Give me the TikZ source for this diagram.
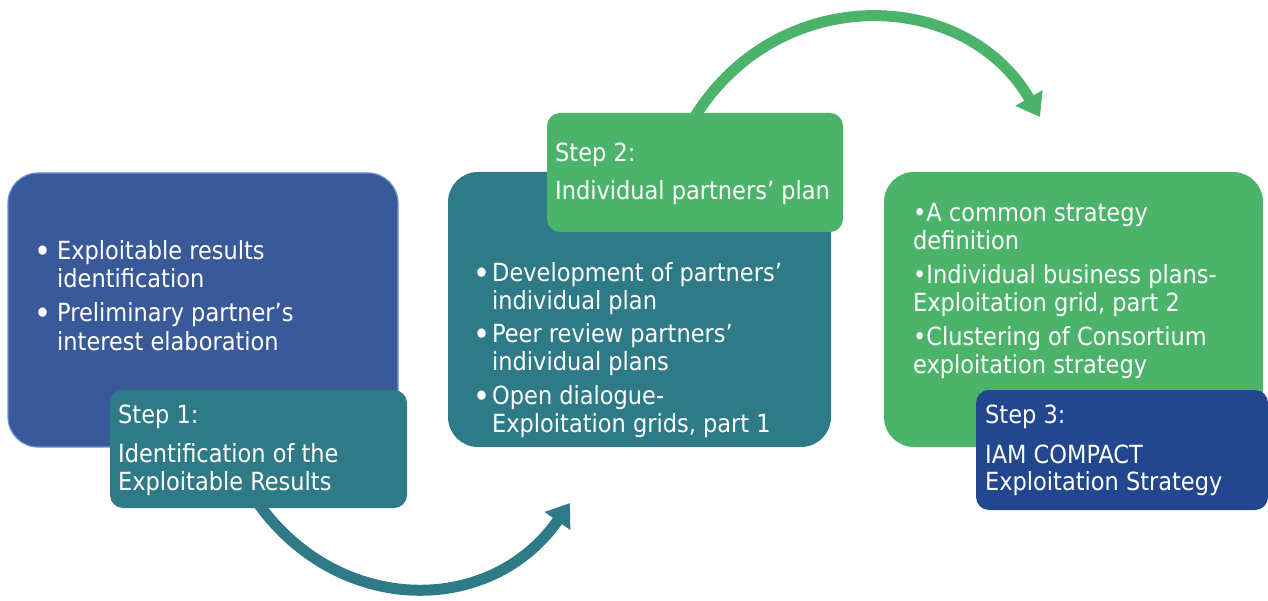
\documentclass[tikz,border=0pt]{standalone}
\usepackage{fontspec}
\setmainfont{DejaVu Sans Condensed}
\usetikzlibrary{arrows.meta,calc}
\pgfdeclarelayer{bg}
\pgfsetlayers{bg,main}
\definecolor{cblue}{HTML}{3A5998}
\definecolor{cblueedge}{HTML}{6C93D3}
\definecolor{cteal}{HTML}{2E7B87}
\definecolor{cgreen}{HTML}{4BB46A}
\definecolor{cnavy}{HTML}{23478E}
\begin{document}
\begin{tikzpicture}[x=1pt,y=-1pt,
  bigbox/.style={rounded corners=30pt, anchor=north west, inner sep=0pt, outer sep=0pt},
  stepbox/.style={rounded corners=13pt, anchor=north west, inner sep=0pt, outer sep=0pt},
  txt/.style={anchor=base west, inner sep=0pt, text=white, font=\fontsize{25}{28}\selectfont},
  bul/.style={anchor=base, inner sep=0pt, text=white, font=\fontsize{32}{32}\selectfont},
  flow/.style={line width=11pt, -{Triangle[width=30pt,length=22pt]}}]
\useasboundingbox (0,0) rectangle (1268,601);
% boxes
\node[bigbox, fill=cblue, draw=cblueedge, line width=1.2pt, minimum width=390, minimum height=274] (b1) at (8,173) {};
\node[stepbox, fill=cteal, minimum width=297, minimum height=118] (s1) at (110,390) {};
\node[bigbox, fill=cteal, minimum width=383, minimum height=275] (b2) at (448,172) {};
\node[stepbox, fill=cgreen, minimum width=296, minimum height=119] (s2) at (547,113) {};
\node[bigbox, fill=cgreen, minimum width=379, minimum height=275] (b3) at (884,172) {};
\node[stepbox, fill=cnavy, minimum width=292, minimum height=120] (s3) at (976,390) {};
% arrows
\begin{pgfonlayer}{bg}
\coordinate (e1) at (570,503);
\draw[flow, cteal] ($(s1.south)+(-4,-10)$) .. controls (333,615) and (489,619) .. (e1);
\coordinate (e2) at (1040,117);
\draw[flow, cgreen] ($(s2.north)+(-4,10)$) .. controls (773,-18) and (964,-14) .. (e2);
\end{pgfonlayer}
% box 1 text
\node[bul] (b1p1) at (42.5,263) {•};
\node[txt] (b1t1) at (57,260) {Exploitable results};
\node[txt] (b1t2) at (57,288) {identification};
\node[bul] (b1p2) at (42.5,325) {•};
\node[txt] (b1t3) at (57,322) {Preliminary partner’s};
\node[txt] (b1t4) at (57,350) {interest elaboration};
% step 1 text
\node[txt] (s1t1) at (118,423) {Step 1:};
\node[txt] (s1t2) at (118,462) {Identification of the};
\node[txt] (s1t3) at (118,490) {Exploitable Results};
% step 2 text
\node[txt] (s2t1) at (555,162) {Step 2:};
\node[txt] (s2t2) at (555,200) {Individual partners’ plan};
% box 2 text
\node[bul] (b2p1) at (482,285) {•};
\node[txt] (b2t1) at (492,282) {Development of partners’};
\node[txt] (b2t2) at (492,310) {individual plan};
\node[bul] (b2p2) at (482,345) {•};
\node[txt] (b2t3) at (492,342) {Peer review partners’};
\node[txt] (b2t4) at (492,370) {individual plans};
\node[bul] (b2p3) at (482,407) {•};
\node[txt] (b2t5) at (492,404) {Open dialogue-};
\node[txt] (b2t6) at (492,432) {Exploitation grids, part 1};
% box 3 text
\node[txt] (b3t1) at (913,222) {•A common strategy};
\node[txt] (b3t2) at (913,250) {definition};
\node[txt] (b3t3) at (913,284) {•Individual business plans-};
\node[txt] (b3t4) at (913,312) {Exploitation grid, part 2};
\node[txt] (b3t5) at (913,345) {•Clustering of Consortium};
\node[txt] (b3t6) at (913,373) {exploitation strategy};
% step 3 text
\node[txt] (s3t1) at (985,423) {Step 3:};
\node[txt] (s3t2) at (985,463) {IAM COMPACT};
\node[txt] (s3t3) at (985,490) {Exploitation Strategy};
\end{tikzpicture}
\end{document}
